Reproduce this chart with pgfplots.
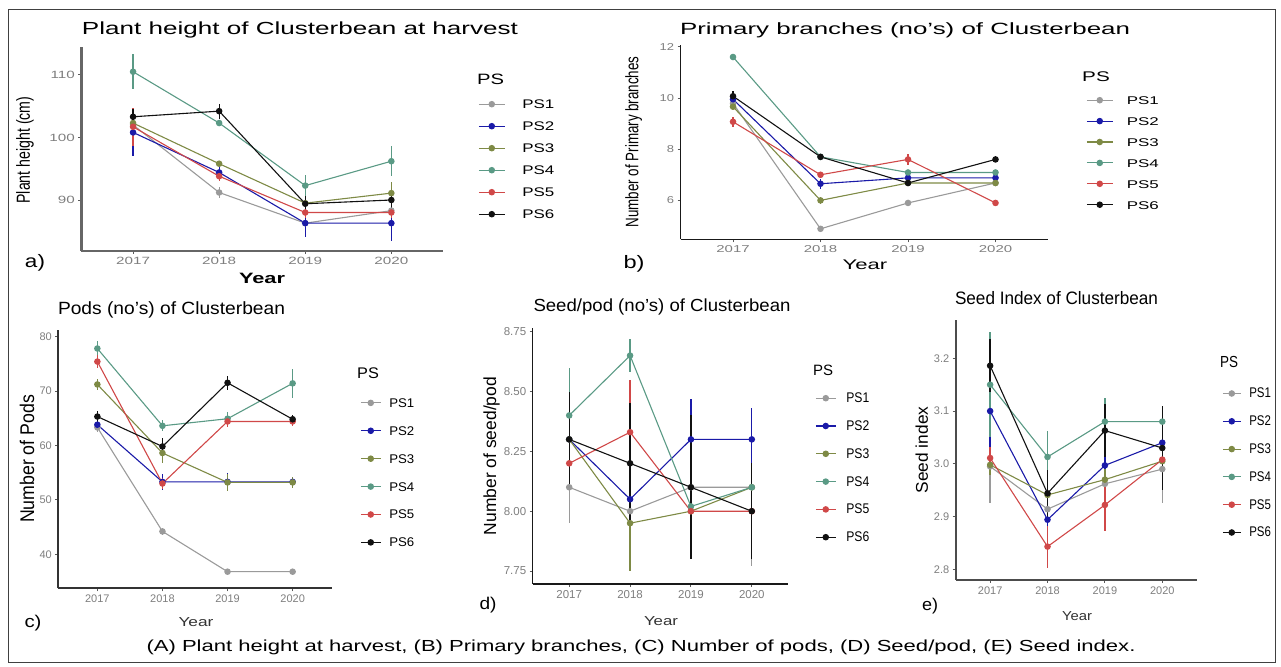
\documentclass[border=0pt]{standalone}
\usepackage{fontspec}
\setmainfont{Liberation Sans}
\usepackage{graphicx}
\usepackage{pgfplots}
\pgfplotsset{compat=1.18}

\definecolor{psA}{HTML}{9A9A9A}
\definecolor{psB}{HTML}{1A1AA8}
\definecolor{psC}{HTML}{7E8A45}
\definecolor{psD}{HTML}{5A9A85}
\definecolor{psE}{HTML}{D04848}
\definecolor{psF}{HTML}{111111}
\definecolor{tickgrey}{HTML}{7E7E7E}

\newcommand{\fs}[1]{\fontsize{#1}{#1}\selectfont}
\newcommand{\W}[2]{\resizebox{#1}{\height}{#2}}
\newcommand{\sx}[2]{\scalebox{#1}[1]{#2}}

\pgfplotsset{
  panel/.style={
    scale only axis, anchor=south west,
    axis x line*=bottom, axis y line*=left,
    axis line style={-},
    every outer x axis line/.append style={-},
    every outer y axis line/.append style={-},
    tick align=outside, major tick length=3pt,
    tick style={line width=0.9pt, draw=black!65},
    xmin=2016.4, xmax=2020.6, xtick={2017,2018,2019,2020},
    tick label style={color=tickgrey},
    every axis plot/.append style={line width=1.1pt, mark=*, mark size=2.7pt},
    legend cell align=left,
    legend style={draw=none, fill=none, inner sep=0pt, anchor=north west,
      nodes={inner sep=0pt, text height=9pt, text depth=0pt}},
  },
  aline/.style 2 args={
    every outer x axis line/.append style={line width=#1, draw=#2},
    every outer y axis line/.append style={line width=#1, draw=#2}},
  legimg/.style={legend image code/.code={%
    \draw[mark repeat=2,mark phase=2,##1] plot coordinates {(0pt,0pt) (#1/2,0pt) (#1,0pt)};}},
  eb/.style={error bars/.cd, y dir=both, y explicit, error mark=none,
    error bar style={line width=1.3pt}},
}

\begin{document}
\begin{tikzpicture}
\path[use as bounding box] (0pt,0pt) rectangle (1281pt,666pt);
\draw[line width=1pt, black!75] (8pt,4pt) rectangle (1275pt,656pt);

% ---------- a) plant height
\begin{axis}[panel, at={(81.4pt,415.3pt)}, width=361.6pt, height=204pt,
  aline={2.2pt}{black!60},
  ymin=81.9, ymax=114.5, ytick={90,100,110},
  xticklabels={\sx{1.45}{2017},\sx{1.45}{2018},\sx{1.45}{2019},\sx{1.45}{2020}},
  yticklabels={\sx{1.45}{90},\sx{1.45}{100},\sx{1.45}{110}},
  tick label style={font=\fs{10.5}}, legimg=26pt,
  legend style={at={(1.0968,0.7412)}, row sep=13pt, column sep=17pt, font=\fs{12.5}}]
\addplot[psA, eb] coordinates {(2017,102.0) +- (0,1.0) (2018,91.2) +- (0,0.8) (2019,86.3) +- (0,0.8) (2020,88.3) +- (0,0.8)};
\addlegendentry{\W{32pt}{PS1}}
\addplot[psB, eb] coordinates {(2017,100.8) +- (0,3.8) (2018,94.4) +- (0,1.0) (2019,86.3) +- (0,2.2) (2020,86.3) +- (0,2.9)};
\addlegendentry{\W{32pt}{PS2}}
\addplot[psC, eb] coordinates {(2017,102.3) +- (0,1.2) (2018,95.8) +- (0,0.5) (2019,89.5) +- (0,1.0) (2020,91.1) +- (0,1.8)};
\addlegendentry{\W{32pt}{PS3}}
\addplot[psD, eb] coordinates {(2017,110.5) +- (0,2.8) (2018,102.3) +- (0,0.5) (2019,92.3) +- (0,1.7) (2020,96.2) +- (0,2.4)};
\addlegendentry{\W{32pt}{PS4}}
\addplot[psE, eb] coordinates {(2017,101.7) +- (0,3.0) (2018,93.8) +- (0,0.8) (2019,88.0) +- (0,0.8) (2020,88.0) +- (0,0.8)};
\addlegendentry{\W{32pt}{PS5}}
\addplot[psF, eb] coordinates {(2017,103.3) +- (0,1.2) (2018,104.2) +- (0,1.2) (2019,89.4) +- (0,1.2) (2020,90.0) +- (0,1.2)};
\addlegendentry{\W{32pt}{PS6}}
\end{axis}
\node[font=\fs{17.5}] at (300pt,636pt) {\W{436pt}{Plant height of Clusterbean at harvest}};
\node[font=\fs{14}, rotate=90] at (25pt,516pt) {\scalebox{1}[1.35]{\W{107pt}{Plant height (cm)}}};
\node[font=\bfseries\fs{15}] at (262pt,388pt) {\W{46pt}{Year}};
\node[font=\fs{18}] at (35pt,403pt) {\W{20pt}{a)}};
\node[font=\fs{15}, anchor=west, inner sep=0pt] at (477pt,587pt) {\W{27pt}{PS}};

% ---------- b) primary branches
\begin{axis}[panel, at={(680.5pt,426.7pt)}, width=367.5pt, height=194.3pt,
  aline={1.4pt}{black!90},
  ymin=4.48, ymax=12.07, ytick={6,8,10,12},
  xticklabels={\sx{1.5}{2017},\sx{1.5}{2018},\sx{1.5}{2019},\sx{1.5}{2020}},
  yticklabels={\sx{1.3}{6},\sx{1.3}{8},\sx{1.3}{10},\sx{1.3}{12}},
  tick label style={font=\fs{10}}, legimg=26pt,
  legend style={at={(1.1034,0.740)}, row sep=11.9pt, column sep=13.5pt, font=\fs{11.2}}]
\addplot[psA, eb] coordinates {(2017,9.79) +- (0,0.1) (2018,4.89) +- (0,0.05) (2019,5.9) +- (0,0.05) (2020,6.68) +- (0,0.08)};
\addlegendentry{\W{32pt}{PS1}}
\addplot[psB, eb] coordinates {(2017,9.95) +- (0,0.15) (2018,6.65) +- (0,0.2) (2019,6.88) +- (0,0.1) (2020,6.88) +- (0,0.1)};
\addlegendentry{\W{32pt}{PS2}}
\addplot[psC, eb] coordinates {(2017,9.66) +- (0,0.1) (2018,6.0) +- (0,0.15) (2019,6.68) +- (0,0.05) (2020,6.68) +- (0,0.05)};
\addlegendentry{\W{32pt}{PS3}}
\addplot[psD, eb] coordinates {(2017,11.6) +- (0,0.05) (2018,7.7) +- (0,0.05) (2019,7.09) +- (0,0.05) (2020,7.09) +- (0,0.05)};
\addlegendentry{\W{32pt}{PS4}}
\addplot[psE, eb] coordinates {(2017,9.07) +- (0,0.2) (2018,7.0) +- (0,0.05) (2019,7.6) +- (0,0.2) (2020,5.9) +- (0,0.05)};
\addlegendentry{\W{32pt}{PS5}}
\addplot[psF, eb] coordinates {(2017,10.07) +- (0,0.2) (2018,7.7) +- (0,0.1) (2019,6.68) +- (0,0.1) (2020,7.6) +- (0,0.12)};
\addlegendentry{\W{32pt}{PS6}}
\end{axis}
\node[font=\fs{16.3}] at (905pt,636pt) {\W{450pt}{Primary branches (no's) of Clusterbean}};
\node[font=\fs{13.4}, rotate=90] at (633.6pt,524pt) {\scalebox{1}[1.35]{\W{171pt}{Number of Primary branches}}};
\node[font=\fs{14}] at (865pt,401pt) {\W{44.6pt}{Year}};
\node[font=\fs{18}] at (634pt,402pt) {\W{21pt}{b)}};
\node[font=\fs{14}, anchor=west, inner sep=0pt] at (1082pt,589pt) {\W{27.6pt}{PS}};

% ---------- c) pods
\begin{axis}[panel, at={(58.3pt,77.7pt)}, width=273.4pt, height=258.3pt,
  aline={1.9pt}{black!80},
  ymin=33.75, ymax=81.2, ytick={40,50,60,70,80},
  xticklabels={2017,2018,2019,2020},
  yticklabels={40,50,60,70,80},
  tick label style={font=\fs{11}}, legimg=20pt,
  legend style={at={(1.1035,0.736)}, row sep=18.9pt, column sep=8pt, font=\fs{12.6}}]
\addplot[psA, eb] coordinates {(2017,63.3) +- (0,0.8) (2018,44.2) +- (0,0.6) (2019,36.8) +- (0,0.5) (2020,36.8) +- (0,0.5)};
\addlegendentry{\W{25pt}{PS1}}
\addplot[psB, eb] coordinates {(2017,63.8) +- (0,1.0) (2018,53.3) +- (0,1.5) (2019,53.3) +- (0,1.7) (2020,53.3) +- (0,0.5)};
\addlegendentry{\W{25pt}{PS2}}
\addplot[psC, eb] coordinates {(2017,71.2) +- (0,1.0) (2018,58.6) +- (0,1.8) (2019,53.2) +- (0,1.5) (2020,53.2) +- (0,1.0)};
\addlegendentry{\W{25pt}{PS3}}
\addplot[psD, eb] coordinates {(2017,77.8) +- (0,1.3) (2018,63.6) +- (0,1.0) (2019,64.9) +- (0,1.2) (2020,71.4) +- (0,2.7)};
\addlegendentry{\W{25pt}{PS4}}
\addplot[psE, eb] coordinates {(2017,75.4) +- (0,1.2) (2018,53.0) +- (0,1.0) (2019,64.4) +- (0,1.0) (2020,64.4) +- (0,0.8)};
\addlegendentry{\W{25pt}{PS5}}
\addplot[psF, eb] coordinates {(2017,65.3) +- (0,1.0) (2018,59.8) +- (0,1.5) (2019,71.5) +- (0,1.3) (2020,64.8) +- (0,0.8)};
\addlegendentry{\W{25pt}{PS6}}
\end{axis}
\node[font=\fs{17.7}] at (171.5pt,356pt) {\W{227pt}{Pods (no's) of Clusterbean}};
\node[font=\fs{16.5}, rotate=90] at (27pt,207pt) {\scalebox{1}[1.2]{\W{128pt}{Number of Pods}}};
\node[font=\fs{13}, text=black!80] at (196pt,44pt) {\W{35pt}{Year}};
\node[font=\fs{17}] at (33pt,43pt) {\W{17pt}{c)}};
\node[font=\fs{15.4}, anchor=west, inner sep=0pt] at (357pt,293pt) {\W{21.7pt}{PS}};

% ---------- d) seed per pod
\begin{axis}[panel, at={(532.7pt,82pt)}, width=255.6pt, height=255.7pt,
  aline={1.5pt}{black!90},
  ymin=7.696, ymax=8.764, ytick={7.75,8,8.25,8.5,8.75},
  xticklabels={2017,2018,2019,2020},
  yticklabels={7.75,8.00,8.25,8.50,8.75},
  tick label style={font=\fs{11.5}}, legimg=20pt,
  legend style={at={(1.1045,0.745)}, row sep=18.8pt, column sep=10pt, font=\fs{14}}]
\addplot[psA, eb] coordinates {(2017,8.10) +- (0,0.15) (2018,8.00) +- (0,0.25) (2019,8.10) +- (0,0.25) (2020,8.10) +- (0,0.33)};
\addlegendentry{\W{23pt}{PS1}}
\addplot[psB, eb] coordinates {(2017,8.30) +- (0,0.15) (2018,8.05) +- (0,0.2) (2019,8.30) +- (0,0.17) (2020,8.30) +- (0,0.13)};
\addlegendentry{\W{23pt}{PS2}}
\addplot[psC, eb] coordinates {(2017,8.30) +- (0,0.15) (2018,7.95) +- (0,0.2) (2019,8.00) +- (0,0.15) (2020,8.10) +- (0,0.1)};
\addlegendentry{\W{23pt}{PS3}}
\addplot[psD, eb] coordinates {(2017,8.40) +- (0,0.2) (2018,8.65) +- (0,0.07) (2019,8.02) +- (0,0.15) (2020,8.10) +- (0,0.1)};
\addlegendentry{\W{23pt}{PS4}}
\addplot[psE, eb] coordinates {(2017,8.20) +- (0,0.1) (2018,8.33) +- (0,0.22) (2019,8.00) +- (0,0.15) (2020,8.00) +- (0,0.1)};
\addlegendentry{\W{23pt}{PS5}}
\addplot[psF, eb] coordinates {(2017,8.30) +- (0,0.2) (2018,8.20) +- (0,0.25) (2019,8.10) +- (0,0.3) (2020,8.00) +- (0,0.2)};
\addlegendentry{\W{23pt}{PS6}}
\end{axis}
\node[font=\fs{17.5}] at (662pt,359.3pt) {\W{257pt}{Seed/pod (no's) of Clusterbean}};
\node[font=\fs{17.5}, rotate=90] at (491.7pt,210pt) {\W{158pt}{Number of seed/pod}};
\node[font=\fs{13}, text=black!80] at (661pt,45pt) {\W{34pt}{Year}};
\node[font=\fs{17}] at (488pt,61pt) {\W{17pt}{d)}};
\node[font=\fs{15}, anchor=west, inner sep=0pt] at (813pt,296pt) {\W{20pt}{PS}};

% ---------- e) seed index
\begin{axis}[panel, at={(955.7pt,86pt)}, width=241pt, height=260pt,
  aline={1.7pt}{black!70},
  ymin=2.7797, ymax=3.2727, ytick={2.8,2.9,3.0,3.1,3.2},
  xticklabels={2017,2018,2019,2020},
  yticklabels={2.8,2.9,3.0,3.1,3.2},
  tick label style={font=\fs{11}}, legimg=18pt,
  legend style={at={(1.105,0.7354)}, row sep=18.8pt, column sep=8pt, font=\fs{14}}]
\addplot[psA, eb] coordinates {(2017,2.995) +- (0,0.07) (2018,2.914) +- (0,0.02) (2019,2.962) +- (0,0.02) (2020,2.99) +- (0,0.065)};
\addlegendentry{\W{21.7pt}{PS1}}
\addplot[psB, eb] coordinates {(2017,3.10) +- (0,0.07) (2018,2.894) +- (0,0.02) (2019,2.997) +- (0,0.04) (2020,3.04) +- (0,0.03)};
\addlegendentry{\W{21.7pt}{PS2}}
\addplot[psC, eb] coordinates {(2017,2.998) +- (0,0.02) (2018,2.941) +- (0,0.02) (2019,2.97) +- (0,0.02) (2020,3.005) +- (0,0.02)};
\addlegendentry{\W{21.7pt}{PS3}}
\addplot[psD, eb] coordinates {(2017,3.15) +- (0,0.1) (2018,3.013) +- (0,0.05) (2019,3.08) +- (0,0.045) (2020,3.08) +- (0,0.02)};
\addlegendentry{\W{21.7pt}{PS4}}
\addplot[psE, eb] coordinates {(2017,3.011) +- (0,0.02) (2018,2.843) +- (0,0.04) (2019,2.922) +- (0,0.05) (2020,3.008) +- (0,0.02)};
\addlegendentry{\W{21.7pt}{PS5}}
\addplot[psF, eb] coordinates {(2017,3.186) +- (0,0.05) (2018,2.944) +- (0,0.045) (2019,3.063) +- (0,0.05) (2020,3.03) +- (0,0.08)};
\addlegendentry{\W{21.7pt}{PS6}}
\end{axis}
\node[font=\fs{18}] at (1056.5pt,367.7pt) {\W{203pt}{Seed Index of Clusterbean}};
\node[font=\fs{17}, rotate=90] at (921.7pt,216pt) {\W{86.7pt}{Seed index}};
\node[font=\fs{13}, text=black!80] at (1077pt,50pt) {\W{30pt}{Year}};
\node[font=\fs{17}] at (930pt,60pt) {\W{16pt}{e)}};
\node[font=\fs{16}, anchor=west, inner sep=0pt] at (1220pt,304.3pt) {\W{18pt}{PS}};

\node[font=\fs{16}] at (641pt,19pt) {\W{989pt}{(A) Plant height at harvest, (B) Primary branches, (C) Number of pods, (D) Seed/pod, (E) Seed index.}};
\end{tikzpicture}
\end{document}
